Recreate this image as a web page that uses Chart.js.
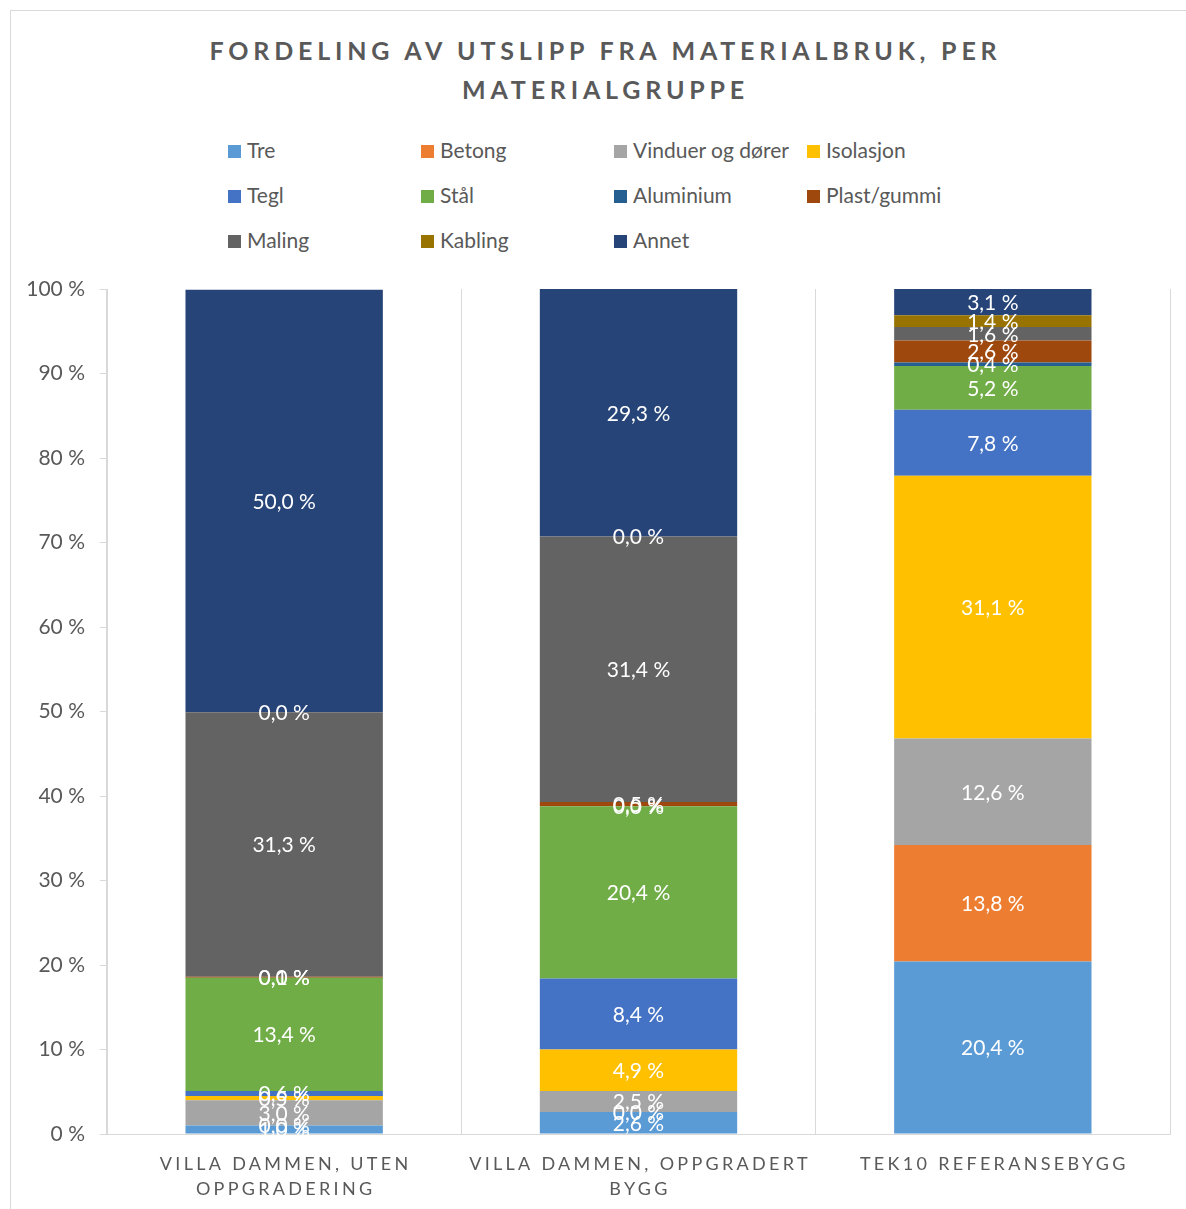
<!DOCTYPE html>
<html>
<head>
<meta charset="utf-8">
<script src="https://cdn.jsdelivr.net/npm/chart.js@4.4.0/dist/chart.umd.min.js"></script>
<style>
  html, body { margin: 0; padding: 0; background: #fff; }
  #wrap { position: relative; width: 1186px; height: 1209px; overflow: hidden; font-family: Lato, sans-serif; color: #595959; }
  #frame { position: absolute; left: 10px; top: 10px; width: 1300px; height: 1300px; border: 1px solid #d9d9d9; box-sizing: border-box; }
  #title { position: absolute; left: 0; top: 31px; width: 1206px; text-align: center; font-weight: 700; font-size: 25px; line-height: 39px; letter-spacing: 4.8px; padding-left: 5px; box-sizing: border-box; }
  #legend .item { position: absolute; font-size: 21px; line-height: 24px; white-space: nowrap; }
  #legend .box { display: inline-block; width: 13px; height: 13px; margin-right: 6px; vertical-align: 0px; }
  #chart { position: absolute; left: 0; top: 0; }
</style>
</head>
<body>
<div id="wrap">
  <div id="frame"></div>
  <div id="title">FORDELING AV UTSLIPP FRA MATERIALBRUK, PER<br>MATERIALGRUPPE</div>
  <div id="legend"></div>
  <canvas id="chart" width="1186" height="1209"></canvas>
</div>
<script>
// categories (x axis), two lines where the label wraps
const categories = [
  ['VILLA DAMMEN, UTEN', 'OPPGRADERING'],
  ['VILLA DAMMEN, OPPGRADERT', 'BYGG'],
  ['TEK10 REFERANSEBYGG']
];

const seriesNames = ['Tre', 'Betong', 'Vinduer og dører', 'Isolasjon', 'Tegl', 'Stål',
  'Aluminium', 'Plast/gummi', 'Maling', 'Kabling', 'Annet'];

// share of emissions in %, per category
const tre       = [1.0, 2.6, 20.4];
const betong    = [0.0, 0.0, 13.8];
const vinduer   = [3.0, 2.5, 12.6];
const isolasjon = [0.5, 4.9, 31.1];
const tegl      = [0.6, 8.4, 7.8];
const staal     = [13.4, 20.4, 5.2];
const aluminium = [0.0, 0.0, 0.4];
const plast     = [0.1, 0.5, 2.6];
const maling    = [31.3, 31.4, 1.6];
const kabling   = [0.0, 0.0, 1.4];
const annet     = [50.0, 29.3, 3.1];

const yTicks = [0, 10, 20, 30, 40, 50, 60, 70, 80, 90, 100];

const seriesValues = [tre, betong, vinduer, isolasjon, tegl, staal, aluminium, plast, maling, kabling, annet];
const seriesColors = ['#5B9BD5', '#ED7D31', '#A5A5A5', '#FFC000', '#4472C4', '#70AD47',
  '#255E91', '#9E480E', '#636363', '#997300', '#264478'];

const textColor = '#595959';
const lineColor = '#d9d9d9';

function fmtPct(v) {
  return v.toFixed(1).replace('.', ',') + ' %';
}

// white value labels centred in each segment
const segmentLabels = {
  id: 'segmentLabels',
  afterDatasetsDraw(chart) {
    const ctx = chart.ctx;
    ctx.save();
    ctx.font = '21px Lato, sans-serif';
    ctx.fillStyle = '#ffffff';
    ctx.textAlign = 'center';
    ctx.textBaseline = 'middle';
    chart.data.datasets.forEach((ds, i) => {
      const meta = chart.getDatasetMeta(i);
      meta.data.forEach((bar, j) => {
        const v = ds.data[j];
        if (v === null || v === undefined) return;
        ctx.fillText(fmtPct(v), bar.x, (bar.y + bar.base) / 2 + 1);
      });
    });
    ctx.restore();
  }
};

// spaced-out uppercase category labels under the axis
const categoryLabels = {
  id: 'categoryLabels',
  afterDraw(chart) {
    const ctx = chart.ctx;
    const xs = chart.scales.x;
    ctx.save();
    ctx.font = '18px Lato, sans-serif';
    ctx.fillStyle = textColor;
    ctx.textAlign = 'center';
    ctx.textBaseline = 'middle';
    if ('letterSpacing' in ctx) ctx.letterSpacing = '3.3px';
    categories.forEach((lines, i) => {
      const x = xs.getPixelForValue(i) + 1.5;
      lines.forEach((line, k) => {
        ctx.fillText(line, x, xs.top + 30 + k * 25);
      });
    });
    ctx.restore();
  }
};

function buildLegend() {
  const el = document.getElementById('legend');
  seriesNames.forEach((name, i) => {
    const col = i % 4, row = Math.floor(i / 4);
    const item = document.createElement('div');
    item.className = 'item';
    item.style.left = (228 + col * 193) + 'px';
    item.style.top = (138 + row * 45) + 'px';
    item.innerHTML = '<span class="box" style="background:' + seriesColors[i] + '"></span>' + name;
    el.appendChild(item);
  });
}

function createChart() {
  const ctx = document.getElementById('chart').getContext('2d');
  new Chart(ctx, {
    type: 'bar',
    data: {
      labels: categories,
      datasets: seriesNames.map((name, i) => ({
        label: name,
        data: seriesValues[i],
        backgroundColor: seriesColors[i],
        borderWidth: 0,
        barPercentage: 0.557,
        categoryPercentage: 1.0
      }))
    },
    options: {
      responsive: false,
      animation: false,
      layout: { padding: { left: 0, top: 289, right: 16, bottom: 0 } },
      plugins: {
        legend: { display: false },
        title: { display: false },
        tooltip: { enabled: false }
      },
      scales: {
        x: {
          stacked: true,
          grid: { offset: true, color: lineColor, drawTicks: false },
          border: { color: lineColor },
          ticks: { display: false },
          afterFit(scale) { scale.height = 75; }
        },
        y: {
          stacked: true,
          min: 0,
          max: 100,
          afterBuildTicks(scale) { scale.ticks = yTicks.map(v => ({ value: v })); },
          grid: { drawOnChartArea: false, color: lineColor, tickLength: 7 },
          border: { color: lineColor },
          ticks: {
            color: textColor,
            font: { family: 'Lato, sans-serif', size: 21 },
            padding: 15,
            callback: function(value) { return value + ' %'; }
          },
          afterFit(scale) { scale.width = 107; }
        }
      }
    },
    plugins: [segmentLabels, categoryLabels]
  });
}

document.addEventListener('DOMContentLoaded', function() {
  buildLegend();
  createChart();
});
</script>
</body>
</html>
